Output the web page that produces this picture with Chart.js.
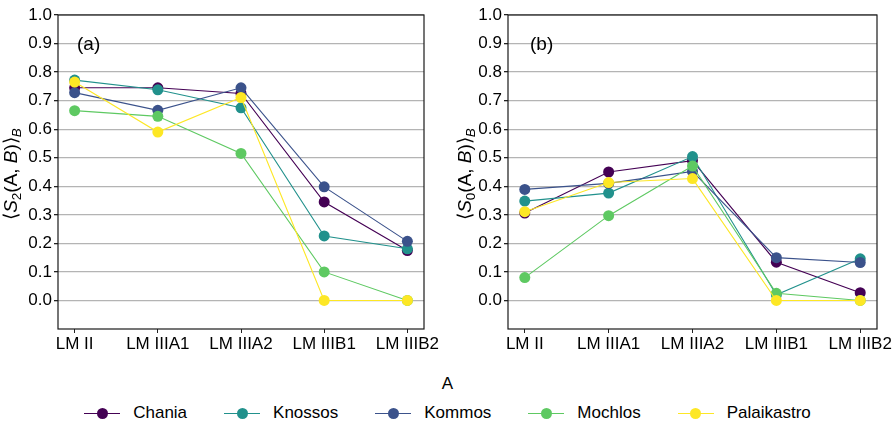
<!DOCTYPE html>
<html>
<head>
<meta charset="utf-8">
<script src="https://cdn.jsdelivr.net/npm/chart.js@4.4.0/dist/chart.umd.min.js"></script>
<style>
    body { margin: 0; background: #fff; font-family: "Liberation Sans", Arial, sans-serif; }
    #wrap { position: relative; width: 895px; height: 426px; }
    #left { position: absolute; left: 0; top: 0; }
    #right { position: absolute; left: 450px; top: 0; }
    #legendTitle { position: absolute; left: 0; top: 374px; width: 895px; text-align: center; font-size: 17px; color: #000; }
    #legend { position: absolute; left: 0; top: 402px; width: 895px; display: flex; justify-content: center; gap: 37px; font-size: 17px; color: #000; }
    .item { display: flex; align-items: center; gap: 13px; height: 22px; }
    .mark { position: relative; width: 36px; height: 22px; }
    .mark .ln { position: absolute; left: 0; right: 0; top: 10.5px; height: 1.2px; }
    .mark .dot { position: absolute; left: 12.5px; top: 5.5px; width: 11px; height: 11px; border-radius: 50%; }
</style>
</head>
<body>
<div id="wrap">
    <canvas id="left" width="450" height="360"></canvas>
    <canvas id="right" width="445" height="360"></canvas>
    <div id="legendTitle">A</div>
    <div id="legend"></div>
</div>
<script>
const periods = ['LM II', 'LM IIIA1', 'LM IIIA2', 'LM IIIB1', 'LM IIIB2'];
const sites = ['Chania', 'Knossos', 'Kommos', 'Mochlos', 'Palaikastro'];
const colors = ['#440154', '#21918c', '#3b528b', '#5ec962', '#fde725'];
const yTicks = [0.0, 0.1, 0.2, 0.3, 0.4, 0.5, 0.6, 0.7, 0.8, 0.9, 1.0];

// (a) <S2(A,B)>_B
const s2Chania      = [0.745, 0.745, 0.725, 0.345, 0.175];
const s2Knossos     = [0.772, 0.738, 0.675, 0.226, 0.181];
const s2Kommos      = [0.728, 0.666, 0.745, 0.398, 0.207];
const s2Mochlos     = [0.665, 0.645, 0.515, 0.100, 0.000];
const s2Palaikastro = [0.765, 0.590, 0.711, 0.000, 0.000];

// (b) <S0(A,B)>_B
const s0Chania      = [0.306, 0.450, 0.490, 0.134, 0.027];
const s0Knossos     = [0.348, 0.376, 0.504, 0.020, 0.146];
const s0Kommos      = [0.389, 0.410, 0.452, 0.150, 0.133];
const s0Mochlos     = [0.080, 0.297, 0.471, 0.025, 0.000];
const s0Palaikastro = [0.311, 0.413, 0.427, 0.000, 0.000];

const FONT = '"Liberation Sans", Arial, sans-serif';

function makeDatasets(series) {
    return series.map((vals, i) => ({
        label: sites[i],
        data: vals.map((v, j) => ({ x: j, y: v })),
        borderColor: colors[i],
        backgroundColor: colors[i],
        pointBackgroundColor: colors[i],
        pointBorderColor: colors[i],
        borderWidth: 1.1,
        pointRadius: 5.5,
        pointBorderWidth: 0,
        tension: 0,
        order: sites.length - 1 - i
    }));
}

function yLabelPlugin(sub, cx, panel, px) {
    return {
        id: 'extras',
        beforeDatasetsDraw(chart) {
            const a = chart.chartArea, ctx = chart.ctx;
            ctx.save();
            ctx.strokeStyle = '#1a1a1a';
            ctx.lineWidth = 1.2;
            ctx.strokeRect(a.left, a.top, a.right - a.left, a.bottom - a.top);
            ctx.restore();
        },
        afterDraw(chart) {
            const a = chart.chartArea, ctx = chart.ctx;
            ctx.save();
            ctx.fillStyle = '#000';
            ctx.font = '19px ' + FONT;
            ctx.textBaseline = 'middle';
            ctx.textAlign = 'left';
            ctx.fillText(panel, px, 45);

            // rotated y label: <S_n(A, B)>_B
            const parts = [
                { t: '\u27E8' },
                { t: 'S', it: true },
                { t: sub, sub: true },
                { t: '(' },
                { t: 'A' },
                { t: ', ' },
                { t: 'B', it: true },
                { t: ')' },
                { t: '\u27E9' },
                { t: 'B', it: true, sub: true }
            ];
            const big = 19, small = 13.5;
            const fontOf = p => (p.it ? 'italic ' : '') + (p.sub ? small : big) + 'px ' + FONT;
            let total = 0;
            parts.forEach(p => { ctx.font = fontOf(p); p.w = ctx.measureText(p.t).width; total += p.w; });
            const cy = (a.top + a.bottom) / 2 + 2;
            ctx.translate(cx, cy);
            ctx.rotate(-Math.PI / 2);
            ctx.textBaseline = 'alphabetic';
            let x = -total / 2;
            parts.forEach(p => {
                ctx.font = fontOf(p);
                ctx.fillText(p.t, x, p.sub ? 4 : 0);
                x += p.w;
            });
            ctx.restore();
        }
    };
}

function makeChart(id, series, sub, cx, panel, px, padRight) {
    new Chart(document.getElementById(id), {
        type: 'line',
        data: { datasets: makeDatasets(series) },
        options: {
            responsive: false,
            animation: false,
            events: [],
            layout: { padding: { top: 15, right: padRight, left: 0, bottom: 0 } },
            plugins: { legend: { display: false }, tooltip: { enabled: false } },
            scales: {
                x: {
                    type: 'linear',
                    min: -0.2,
                    max: 4.2,
                    afterBuildTicks: s => { s.ticks = periods.map((_, i) => ({ value: i })); },
                    afterFit: s => { s.height = 31; },
                    border: { display: false },
                    grid: { drawOnChartArea: false, tickLength: 4, tickColor: '#222' },
                    ticks: {
                        autoSkip: false,
                        maxRotation: 0,
                        padding: 1,
                        color: '#000',
                        font: { family: FONT, size: 17 },
                        callback: v => periods[Math.round(v)]
                    }
                },
                y: {
                    min: -0.1,
                    max: 1.0,
                    afterBuildTicks: s => { s.ticks = yTicks.map(v => ({ value: v })); },
                    afterFit: s => { s.width = 58; },
                    border: { display: false },
                    grid: { color: '#b4b4b4', lineWidth: 1.3, tickLength: 4, tickColor: '#222' },
                    ticks: {
                        padding: 2,
                        color: '#000',
                        font: { family: FONT, size: 17 },
                        callback: v => v.toFixed(1)
                    }
                }
            }
        },
        plugins: [yLabelPlugin(sub, cx, panel, px)]
    });
}

makeChart('left', [s2Chania, s2Knossos, s2Kommos, s2Mochlos, s2Palaikastro], '2', 17, '(a)', 77, 26);
makeChart('right', [s0Chania, s0Knossos, s0Kommos, s0Mochlos, s0Palaikastro], '0', 21, '(b)', 80, 18);

const legend = document.getElementById('legend');
sites.forEach((name, i) => {
    const item = document.createElement('div');
    item.className = 'item';
    item.innerHTML = '<div class="mark"><div class="ln" style="background:' + colors[i] + '"></div>' +
        '<div class="dot" style="background:' + colors[i] + '"></div></div><span>' + name + '</span>';
    legend.appendChild(item);
});
</script>
</body>
</html>
